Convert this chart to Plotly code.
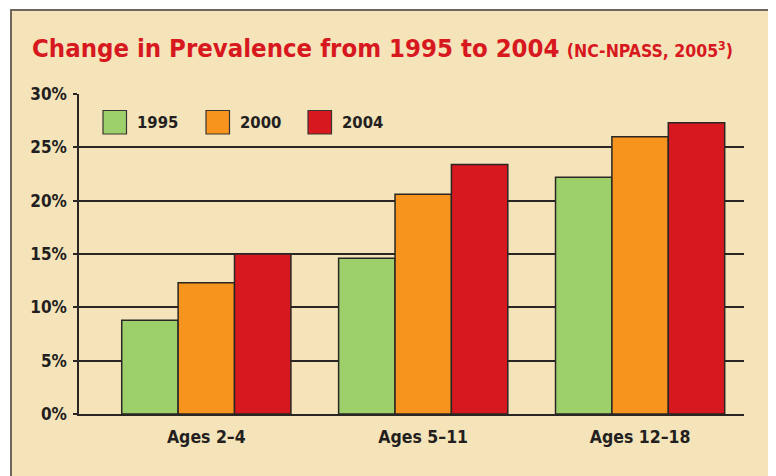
import plotly.graph_objects as go

categories = ["Ages 2–4", "Ages 5–11", "Ages 12–18"]
series_names = ["1995", "2000", "2004"]
values_1995 = [8.8, 14.6, 22.2]
values_2000 = [12.3, 20.6, 26.0]
values_2004 = [15.0, 23.4, 27.3]
series_values = [values_1995, values_2000, values_2004]
series_colors = ["#9DD06B", "#F7941E", "#D8181F"]
y_tick_values = [0, 5, 10, 15, 20, 25, 30]
y_tick_labels = ["0%", "5%", "10%", "15%", "20%", "25%", "30%"]

# page body has an 8px default margin; figure sits at (8, 8) in the window
OFF = 8
W, H = 776 - OFF, 476 - OFF
L, R, T, B = 79 - OFF, 744 - OFF, 94 - OFF, 414 - OFF  # plot area (figure px)

def px(x):  # window pixel -> paper x
    return (x - OFF - L) / (R - L)

def py(y):  # window pixel -> paper y
    return (B - (y - OFF)) / (B - T)

INK = "#231F20"
BG = "#F5E4B9"
FONT = "DejaVu Sans Condensed, Liberation Sans Narrow, Arial Narrow, Liberation Sans, sans-serif"

def cond(s):
    return "<span style='font-stretch:condensed'>" + s + "</span>"

fig = go.Figure()
for name, vals, col in zip(series_names, series_values, series_colors):
    fig.add_trace(go.Bar(
        x=categories, y=vals, name=name,
        marker=dict(color=col, line=dict(color="#2A2624", width=1.5)),
        showlegend=False, hoverinfo="x+y+name",
    ))

shapes = [
    dict(type="rect", xref="paper", yref="paper", layer="below",
         x0=px(11), x1=px(773), y0=py(490), y1=py(10),
         fillcolor=BG, line=dict(color="#6E675E", width=2)),
]
annotations = [
    dict(xref="paper", yref="paper", x=px(30), y=py(48), xanchor="left", yanchor="middle",
         showarrow=False,
         text=cond("<b>Change in Prevalence from 1995 to 2004</b> <span style='font-size:17.5px'><b>(NC-NPASS, 2005<sup>3</sup>)</b></span>"),
         font=dict(family=FONT, size=25.5, color="#D7191F")),
]

# legend drawn as boxes + labels
leg_box_left = [103, 206, 308]
for name, col, x0 in zip(series_names, series_colors, leg_box_left):
    shapes.append(dict(type="rect", xref="paper", yref="paper",
                       x0=px(x0), x1=px(x0 + 23.5), y0=py(134), y1=py(110.5),
                       fillcolor=col, line=dict(color="#3A3430", width=1.2)))
    annotations.append(dict(xref="paper", yref="paper", x=px(x0 + 32), y=py(123),
                            xanchor="left", yanchor="middle", showarrow=False,
                            text=cond("<b>" + name + "</b>"),
                            font=dict(family=FONT, size=16.5, color=INK)))

fig.update_layout(
    width=W, height=H,
    margin=dict(l=L, r=W - R, t=T, b=H - B, pad=0),
    paper_bgcolor="white",
    plot_bgcolor="rgba(0,0,0,0)",
    barmode="group", bargap=0.22, bargroupgap=0,
    shapes=shapes, annotations=annotations,
    font=dict(family=FONT, color=INK),
    xaxis=dict(type="category", range=[-0.587, 2.479], showline=True,
               linecolor="#2A2624", linewidth=1.5, showgrid=False, ticks="",
               tickvals=categories, ticktext=[cond(c) for c in categories],
               tickfont=dict(family=FONT, size=17.5, color=INK, weight="bold"),
               ticklabelstandoff=6, fixedrange=True),
    yaxis=dict(range=[0, 30], tickvals=y_tick_values,
               ticktext=[cond(t) for t in y_tick_labels],
               showline=True, linecolor="#2A2624", linewidth=1.5,
               showgrid=True, gridcolor="#2A2624", gridwidth=1.5,
               zeroline=False, ticks="outside", ticklen=4, tickwidth=1.5,
               tickcolor="#2A2624",
               tickfont=dict(family=FONT, size=17, color=INK, weight="bold"),
               ticklabelstandoff=3, fixedrange=True),
)

fig.write_html("out.html", config={"displayModeBar": False},
               post_script="document.documentElement.style.overflow='hidden';document.body.style.overflow='hidden';")
